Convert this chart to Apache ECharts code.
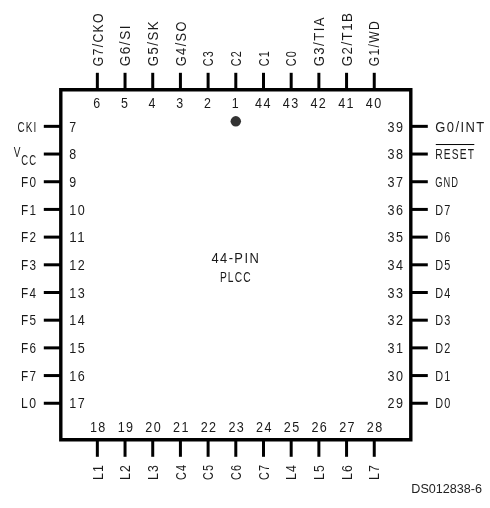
<!DOCTYPE html>
<html><head><meta charset="utf-8">
<style>html,body{margin:0;padding:0;background:#fff}#c{width:490px;height:508px}</style>
<script src="https://cdn.jsdelivr.net/npm/echarts@6/dist/echarts.min.js"></script>
</head><body><div id="c"></div>
<script>
const topNames=['G7/CKO','G6/SI','G5/SK','G4/SO','C3','C2','C1','C0','G3/TIA','G2/T1B','G1/WD'];
const topNums=[6,5,4,3,2,1,44,43,42,41,40];
const bottomNames=['L1','L2','L3','C4','C5','C6','C7','L4','L5','L6','L7'];
const bottomNums=[18,19,20,21,22,23,24,25,26,27,28];
const leftNames=['CKI','VCC','F0','F1','F2','F3','F4','F5','F6','F7','L0'];
const leftNums=[7,8,9,10,11,12,13,14,15,16,17];
const rightNames=['G0/INT','RESET','GND','D7','D6','D5','D4','D3','D2','D1','D0'];
const rightNums=[39,38,37,36,35,34,33,32,31,30,29];
const slots=[-5,-4,-3,-2,-1,0,1,2,3,4,5];
const centreText=['44-PIN','PLCC'];
const centreRows=[-0.27,0.42];
const dotPosition=[0,-5.18];
const sourceNote='DS012838-6';

const FONT='"Liberation Sans"';
const FS=14.5;
const LS=1.6;
const EDGE=6.32;
const measure=document.createElement('canvas').getContext('2d');
measure.font=FS+'px '+FONT;
function pitch(ch){
  if(ch==='I') return 4;
  if(ch==='/') return 14;
  if(ch==='-') return 12;
  if(/[0-9]/.test(ch)) return 8.5;
  return 8;
}
function fitScale(t){
  const target=t.split('').reduce((a,ch)=>a+pitch(ch),0)-1.5+LS*0.8;
  const natural=measure.measureText(t).width+t.length*LS;
  return target/natural;
}
const pins=[];
slots.forEach((s,i)=>{
  pins.push(['top',s,topNames[i],topNums[i]]);
  pins.push(['bottom',s,bottomNames[i],bottomNums[i]]);
  pins.push(['left',s,leftNames[i],leftNums[i]]);
  pins.push(['right',s,rightNames[i],rightNums[i]]);
});
function txt(x,y,t,align,rot){
  const nudge=1.2;
  return {type:'text',x:rot?x+nudge:x,y:rot?y:y+nudge,rotation:rot||0,scaleX:Math.min(fitScale(t),1),scaleY:1,silent:true,
    style:{text:t,fill:'#1a1a1a',font:FS+'px '+FONT,align,verticalAlign:'middle'}};
}
function ln(x1,y1,x2,y2,w){
  return {type:'line',silent:true,shape:{x1,y1,x2,y2},style:{stroke:'#000',lineWidth:w}};
}
function renderPin(params,api){
  const p=pins[params.dataIndex];
  const side=p[0],s=p[1],name=p[2],num=p[3];
  const H=Math.PI/2;
  const ch=[];
  if(side==='top'){
    const c=api.coord([s,-EDGE]);
    ch.push(ln(c[0],c[1],c[0],c[1]-17,3));
    ch.push(txt(c[0],c[1]-23.5,name,'left',H));
    ch.push(txt(c[0],c[1]+13,String(num),'center'));
  }else if(side==='bottom'){
    const c=api.coord([s,EDGE]);
    ch.push(ln(c[0],c[1],c[0],c[1]+17,3));
    ch.push(txt(c[0],c[1]+24,name,'right',H));
    ch.push(txt(c[0]+1,c[1]-13,String(num),'center'));
  }else if(side==='left'){
    const c=api.coord([-EDGE,s]);
    ch.push(ln(c[0],c[1],c[0]-17,c[1],3));
    if(name==='VCC'){
      ch.push(txt(c[0]-47,c[1]-2,'V','left'));
      ch.push(txt(c[0]-39.5,c[1]+5.5,'CC','left'));
    }else{
      ch.push(txt(c[0]-23.5,c[1],name,'right'));
    }
    ch.push(txt(c[0]+8.5,c[1],String(num),'left'));
  }else{
    const c=api.coord([EDGE,s]);
    ch.push(ln(c[0],c[1],c[0]+17,c[1],3));
    ch.push(txt(c[0]+24.5,c[1],name,'left'));
    ch.push(txt(c[0]-6.5,c[1],String(num),'right'));
    if(name==='RESET') ch.push(ln(c[0]+25,c[1]-9.5,c[0]+63.5,c[1]-9.5,1));
  }
  return {type:'group',children:ch};
}
function renderCentre(params,api){
  const c=api.coord([0,centreRows[params.dataIndex]]);
  return txt(c[0],c[1],centreText[params.dataIndex],'center');
}
const chart=echarts.init(document.getElementById('c'),null,{renderer:'canvas'});
const mainLayer=chart.getZr().painter.getLayer(0);
if(mainLayer&&mainLayer.ctx) mainLayer.ctx.letterSpacing=LS+'px';
chart.setOption({
  animation:false,
  backgroundColor:'#fff',
  title:{text:sourceNote,right:8,top:483.5,padding:0,zlevel:1,
    textStyle:{fontFamily:FONT,fontSize:12.6,fontWeight:'normal',color:'#222'}},
  grid:{show:true,left:60.8,top:89.8,width:350,height:350,borderWidth:3.4,borderColor:'#000',backgroundColor:'#fff'},
  xAxis:{type:'value',min:-EDGE,max:EDGE,show:false},
  yAxis:{type:'value',min:-EDGE,max:EDGE,inverse:true,show:false},
  series:[
    {type:'custom',clip:false,silent:true,renderItem:renderPin,
     data:pins.map(p=>[p[1]]),encode:{x:0}},
    {type:'scatter',silent:true,symbol:'circle',symbolSize:10.5,itemStyle:{color:'#000'},
     data:[dotPosition]},
    {type:'custom',clip:false,silent:true,renderItem:renderCentre,
     data:centreRows.map(r=>[0,r])}
  ]
});
</script></body></html>
